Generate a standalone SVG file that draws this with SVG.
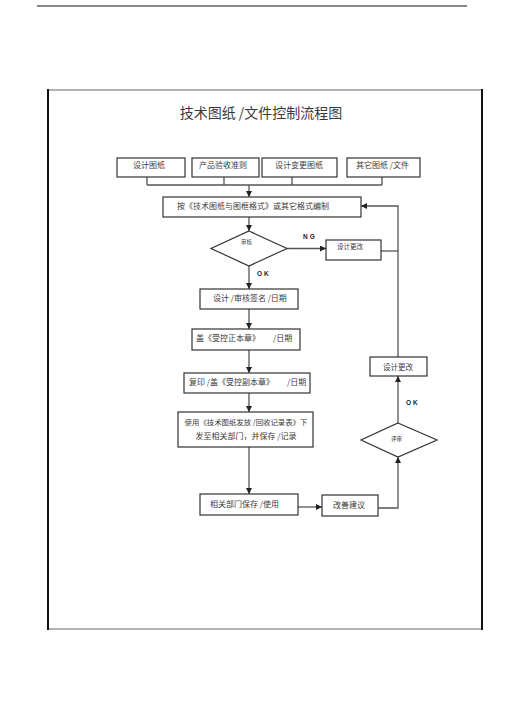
<svg xmlns="http://www.w3.org/2000/svg" width="505" height="714" viewBox="0 0 505 714">
<style>
.bx{fill:#fff;stroke:#333;stroke-width:1.2}
.t{font-family:"Noto Sans CJK SC","Noto Sans",sans-serif;fill:#3a3a3a;font-size:8px}
.s{font-size:6.5px}
.xs{font-size:5.5px}
.lbl{font-family:"Liberation Sans",sans-serif;font-weight:bold;font-size:6.5px;letter-spacing:2px;fill:#222}
.c{fill:none;stroke:#555;stroke-width:1.3}
</style>
<defs>
<marker id="ar" markerUnits="userSpaceOnUse" markerWidth="6" markerHeight="6" refX="6" refY="3" orient="auto">
<path d="M0,0 L6,3 L0,6 Z" fill="#222"/>
</marker>
</defs>
<rect width="505" height="714" fill="#fff"/>
<line x1="37" y1="6" x2="467" y2="6" stroke="#111" stroke-width="1"/>
<g id="frame">
<line x1="48" y1="90" x2="482" y2="90" stroke="#999" stroke-width="1.5"/>
<line x1="48" y1="629" x2="482" y2="629" stroke="#999" stroke-width="1.5"/>
<line x1="48" y1="89" x2="48" y2="630" stroke="#111" stroke-width="2"/>
<line x1="482" y1="89" x2="482" y2="630" stroke="#111" stroke-width="2"/>
</g>
<text x="261" y="118" text-anchor="middle" class="t" style="font-size:14px">技术图纸 /文件控制流程图</text>
<g id="connectors">
<path class="c" d="M147,177 V185 M224,177 V185 M292,177 V185 M382,177 V185 M147,185 H382"/>
<path class="c" d="M249,185 V197" marker-end="url(#ar)"/>
<path class="c" d="M249,217 V231" marker-end="url(#ar)"/>
<path class="c" d="M287,248.5 H326" marker-end="url(#ar)"/>
<path class="c" d="M381,251 H398"/>
<path class="c" d="M249,266 V289" marker-end="url(#ar)"/>
<path class="c" d="M249,309 V329" marker-end="url(#ar)"/>
<path class="c" d="M249,350 V373" marker-end="url(#ar)"/>
<path class="c" d="M249,393 V412" marker-end="url(#ar)"/>
<path class="c" d="M249,447 V494" marker-end="url(#ar)"/>
<path class="c" d="M298,507 H322" marker-end="url(#ar)"/>
<path class="c" d="M378,508 H398 V457" marker-end="url(#ar)"/>
<path class="c" d="M398,423 V376" marker-end="url(#ar)"/>
<path class="c" d="M398,357 V206 H361" marker-end="url(#ar)"/>
<text x="303" y="239" class="lbl">NG</text>
<text x="257" y="276" class="lbl">OK</text>
<text x="406" y="405" class="lbl">OK</text>
</g>
<g id="n1"><rect class="bx" x="117" y="158" width="68" height="19"/><text x="133" y="168" class="t">设计图纸</text></g>
<g id="n2"><rect class="bx" x="192" y="158" width="67" height="19"/><text x="199" y="168" class="t">产品验收准则</text></g>
<g id="n3"><rect class="bx" x="262" y="158" width="75" height="19"/><text x="275" y="168" class="t">设计变更图纸</text></g>
<g id="n4"><rect class="bx" x="347" y="158" width="73" height="19"/><text x="356" y="168" class="t">其它图纸 /文件</text></g>
<g id="n5"><rect class="bx" x="163" y="197" width="198" height="20"/><text x="177" y="209" class="t">按《技术图纸与图框格式》或其它格式编制</text></g>
<g id="d1"><polygon class="bx" points="249,231 287,248.5 249,266 211,248.5"/><text x="241" y="244" class="t xs">审核</text></g>
<g id="n6"><rect class="bx" x="326" y="240" width="55" height="20"/><text x="337" y="249" class="t s">设计更改</text></g>
<g id="n7"><rect class="bx" x="200" y="289" width="98" height="20"/><text x="213" y="301" class="t">设计 /审核签名 /日期</text></g>
<g id="n8"><rect class="bx" x="192" y="329" width="108" height="21"/><text x="196" y="341" class="t">盖《受控正本章》</text><text x="273" y="341" class="t">/日期</text></g>
<g id="n9"><rect class="bx" x="184" y="373" width="126" height="20"/><text x="189" y="385" class="t">复印 /盖《受控副本章》</text><text x="287" y="385" class="t">/日期</text></g>
<g id="n10"><rect class="bx" x="178" y="412" width="135" height="35"/><text x="246" y="425" text-anchor="middle" class="t" style="font-size:7.4px">使用《技术图纸发放 /回收记录表》下</text><text x="246" y="439" text-anchor="middle" class="t">发至相关部门，并保存 /记录</text></g>
<g id="n11"><rect class="bx" x="200" y="494" width="98" height="21"/><text x="210" y="507" class="t">相关部门保存  /使用</text></g>
<g id="n12"><rect class="bx" x="322" y="495" width="56" height="21"/><text x="333" y="508" class="t">改善建议</text></g>
<g id="d2"><polygon class="bx" points="398,423 437,440 398,457 361,440"/><text x="391" y="441" class="t xs">评审</text></g>
<g id="n13"><rect class="bx" x="370" y="357" width="57" height="19"/><text x="383" y="370" class="t" style="font-size:7.5px">设计更改</text></g>
</svg>
